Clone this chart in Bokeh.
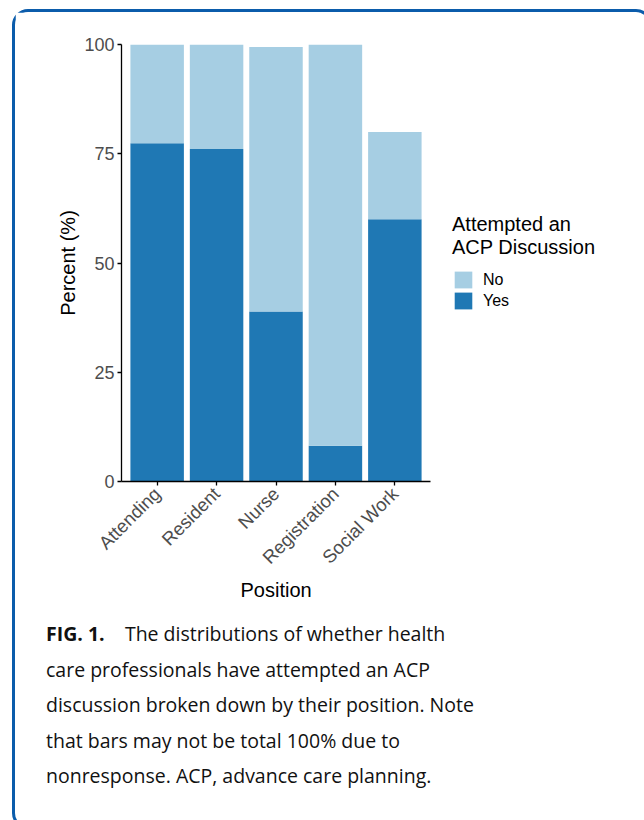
import math
from bokeh.plotting import figure
from bokeh.models import (ColumnDataSource, FixedTicker, Legend,
                          LegendItem, Div, Range1d, Title)
from bokeh.layouts import column
from bokeh.embed import file_html
from bokeh.resources import INLINE

# ---- data ----
positions = ["Attending", "Resident", "Nurse", "Registration", "Social Work"]
yes_pct = [77.4, 76.1, 38.9, 8.2, 60.0]
no_pct = [22.6, 23.9, 60.5, 91.8, 20.0]
y_ticks = [0, 25, 50, 75, 100]
legend_title = "Attempted an\nACP Discussion"
legend_labels = ["No", "Yes"]
x_title = "Position"
y_title = "Percent (%)"
caption_bold = "FIG. 1."
caption_lines = [
    "The distributions of whether health",
    "care professionals have attempted an ACP",
    "discussion broken down by their position. Note",
    "that bars may not be total 100% due to",
    "nonresponse. ACP, advance care planning.",
]

DARK = "#1f78b4"
LIGHT = "#a6cee3"
FONT = "Liberation Sans"

# category slots 1..n on the x axis, labelled with the position names
x_idx = list(range(1, len(positions) + 1))
src = ColumnDataSource(dict(x=x_idx, position=positions, Yes=yes_pct, No=no_pct))

# layout constants (pixels)
W, H = 624, 599
LEFT, TOP, BOTTOM = 106, 32, 130
AXIS_PX = 309          # length of the x axis line
FRAME_W = 499          # frame also hosts the legend to the right
pad = 0.6
x_start = 1 - pad
x_end_axis = len(positions) + pad
x_end = x_start + FRAME_W * (x_end_axis - x_start) / AXIS_PX

p = figure(
    x_range=Range1d(x_start, x_end),
    y_range=Range1d(0, 100),
    width=W, height=H,
    min_border_left=LEFT, min_border_right=W - LEFT - FRAME_W,
    min_border_top=TOP, min_border_bottom=BOTTOM,
    output_backend="svg", toolbar_location=None,
)

rs = p.vbar_stack(["Yes", "No"], x="x", width=0.9, color=[DARK, LIGHT],
                  line_color=None, source=src)

p.outline_line_color = None
p.xgrid.visible = False
p.ygrid.visible = False

for ax in (p.xaxis[0], p.yaxis[0]):
    ax.axis_line_color = "black"
    ax.axis_line_width = 1.3
    ax.major_tick_line_color = "black"
    ax.major_tick_line_width = 1.3
    ax.major_tick_in = 0
    ax.major_tick_out = 4
    ax.minor_tick_line_color = None
    ax.major_label_text_font = FONT
    ax.major_label_text_font_size = "18px"
    ax.major_label_text_color = "#4d4d4d"
    ax.axis_label_text_font = FONT
    ax.axis_label_text_font_size = "20px"
    ax.axis_label_text_font_style = "normal"
    ax.axis_label_text_color = "black"

p.yaxis.ticker = FixedTicker(ticks=y_ticks)
p.yaxis.axis_label = y_title
p.yaxis.major_label_standoff = 3
p.yaxis.axis_label_standoff = 2

p.xaxis.ticker = FixedTicker(ticks=x_idx)
p.xaxis.major_label_overrides = {i: name for i, name in zip(x_idx, positions)}
p.xaxis.bounds = (x_start, x_end_axis)
p.xaxis.major_label_orientation = math.pi / 4
p.xaxis.major_label_text_font_size = "18.5px"
p.xaxis.major_label_standoff = 5

# x axis title, centred under the axis line (not the whole frame)
x_title_w = 71
p.add_layout(Title(text=x_title, align="left",
                   offset=AXIS_PX / 2 - x_title_w / 2,
                   vertical_align="top",
                   text_font=FONT, text_font_size="20px",
                   text_font_style="normal", text_color="black",
                   standoff=0), "below")

legend = Legend(
    items=[LegendItem(label=legend_labels[0], renderers=[rs[1]]),
           LegendItem(label=legend_labels[1], renderers=[rs[0]])],
    title=legend_title,
    location=(AXIS_PX + 22, 170),
    padding=0, margin=0, spacing=0,
    border_line_color=None, background_fill_alpha=0,
    glyph_width=22, glyph_height=21, label_height=21, label_standoff=9,
    label_text_font=FONT, label_text_font_size="16px",
    label_text_color="black",
    title_text_font=FONT, title_text_font_size="20px",
    title_text_font_style="normal", title_text_color="black",
    title_standoff=10,
)
p.add_layout(legend)

lines_html = (f"<b>{caption_bold}</b>&nbsp;&nbsp;&nbsp;&nbsp;" +
              "<br>".join(caption_lines))
div = Div(
    text=lines_html,
    width=W, height=205,
    styles={
        "font-family": "'Open Sans', sans-serif",
        "font-size": "19.5px",
        "line-height": "35.5px",
        "color": "#111111",
        "white-space": "nowrap",
        "padding-left": "26px",
    },
)

layout = column(p, div, margin=(9, 0, 0, 12),
                styles={"border": "3px solid #0b5cab",
                        "border-radius": "16px"})

open("out.html", "w").write(file_html(layout, INLINE))
